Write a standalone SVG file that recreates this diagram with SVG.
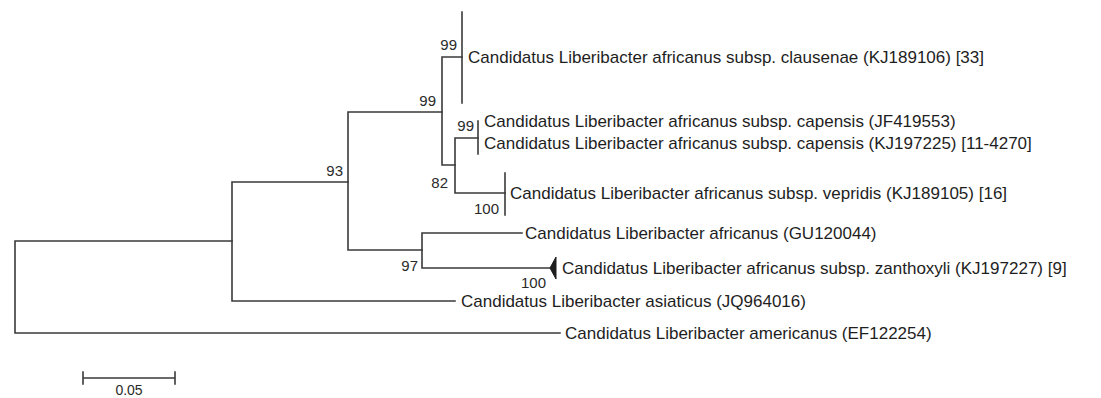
<svg xmlns="http://www.w3.org/2000/svg" width="1101" height="398" viewBox="0 0 1101 398">
<style>
.br{stroke:#3a3a3a;stroke-width:1.6;fill:none;stroke-linecap:square}
.tx{font-family:"Liberation Sans",Arial,sans-serif;font-size:17px;fill:#1e1e1e}
.bs{font-family:"Liberation Sans",Arial,sans-serif;font-size:15px;fill:#2a2a2a;text-anchor:end}
.sc{font-family:"Liberation Sans",Arial,sans-serif;font-size:14px;fill:#2a2a2a;text-anchor:middle}
</style>
<rect width="1101" height="398" fill="#ffffff"/>
<g id="connectors" class="br">
<path d="M15,241V333M15,241H232M15,333H560"/>
<path d="M232,182V301M232,182H348M232,301H455"/>
<path d="M348,112V250M348,112H442M348,250H422"/>
<path d="M442,57V165M442,57H462M442,165H455"/>
<path d="M462,12V103"/>
<path d="M455,138V193M455,138H478M455,193H505"/>
<path d="M478,121V154"/>
<path d="M505,173V215"/>
<path d="M422,233V268M422,233H522M422,268H552"/>
</g>
<g id="node-93"><text class="bs" x="343" y="176">93</text></g>
<g id="node-99a"><text class="bs" x="436" y="106">99</text></g>
<g id="node-99b"><text class="bs" x="457" y="50">99</text></g>
<g id="node-82"><text class="bs" x="448" y="188">82</text></g>
<g id="node-99c"><text class="bs" x="474" y="131">99</text></g>
<g id="node-100a"><text class="bs" x="499" y="214">100</text></g>
<g id="node-97"><text class="bs" x="418" y="271">97</text></g>
<g id="taxon-clausenae"><text class="tx" x="468" y="63">Candidatus Liberibacter africanus subsp. clausenae (KJ189106) [33]</text></g>
<g id="taxon-capensis1"><text class="tx" x="484" y="127">Candidatus Liberibacter africanus subsp. capensis (JF419553)</text></g>
<g id="taxon-capensis2"><text class="tx" x="484" y="149">Candidatus Liberibacter africanus subsp. capensis (KJ197225) [11-4270]</text></g>
<g id="taxon-vepridis"><text class="tx" x="510" y="199">Candidatus Liberibacter africanus subsp. vepridis (KJ189105) [16]</text></g>
<g id="taxon-GU120044"><text class="tx" x="525" y="239">Candidatus Liberibacter africanus (GU120044)</text></g>
<g id="taxon-zanthoxyli">
<polygon points="550,268 556,257 556,279" fill="#1e1e1e" stroke="#1e1e1e" stroke-width="1"/>
<text class="bs" x="546" y="288">100</text>
<text class="tx" x="562" y="274">Candidatus Liberibacter africanus subsp. zanthoxyli (KJ197227) [9]</text>
</g>
<g id="taxon-asiaticus"><text class="tx" x="461" y="307">Candidatus Liberibacter asiaticus (JQ964016)</text></g>
<g id="taxon-americanus"><text class="tx" x="565" y="339">Candidatus Liberibacter americanus (EF122254)</text></g>
<g id="scale-bar">
<path class="br" d="M83,378H175M83,372V384M175,372V384"/>
<text class="sc" x="129" y="395">0.05</text>
</g>
</svg>
